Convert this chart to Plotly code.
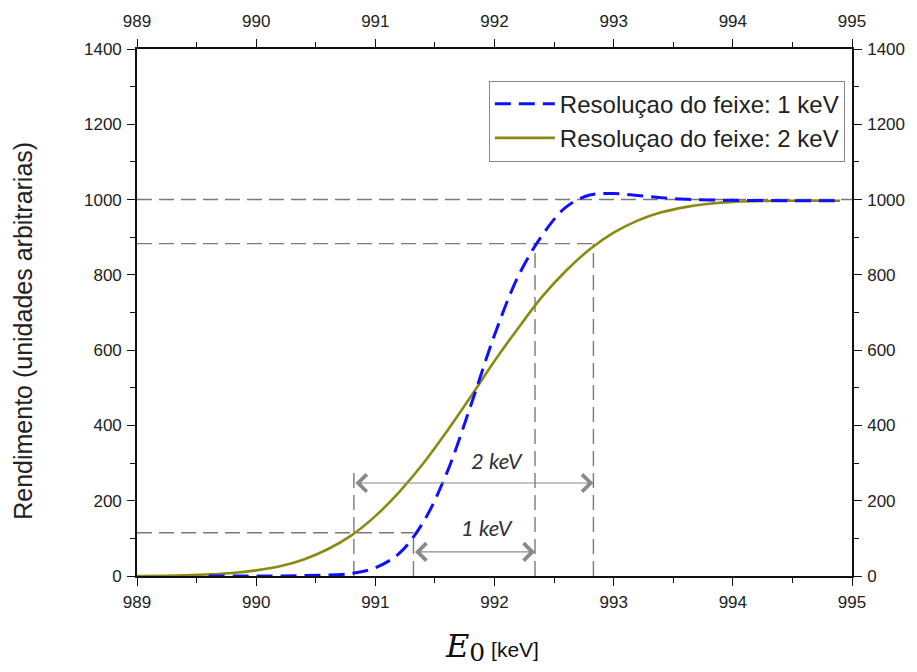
import plotly.graph_objects as go

# ---- data ----
energy_blue = [989.6, 990.0, 990.4, 990.8, 991.0, 991.2, 991.4, 991.6, 991.8, 992.0,
               992.2, 992.4, 992.6, 992.8, 993.0, 993.2, 993.4, 993.6, 993.8, 994.0,
               994.5, 994.9]
yield_blue = [0, 0, 1, 7, 22, 60, 142, 274, 452, 640,
              797, 905, 980, 1012, 1016, 1011, 1005, 1001, 999, 998,
              997, 997]

energy_green = [989.0, 989.4, 989.8, 990.0, 990.2, 990.4, 990.6, 990.8, 991.0, 991.2,
                991.4, 991.6, 991.8, 992.0, 992.2, 992.4, 992.6, 992.8, 993.0, 993.2,
                993.4, 993.6, 993.8, 994.0, 994.5, 994.9]
yield_green = [0, 2, 8, 15, 26, 44, 71, 108, 159, 223,
               298, 384, 476, 571, 659, 742, 811, 868, 912, 944,
               966, 980, 989, 994, 997, 997]

series_names = ["Resoluçao do feixe: 1 keV", "Resoluçao do feixe: 2 keV"]

# reference (guide) lines
h_levels = [1000, 883, 115]
h_x_end = [995, 992.83, 991.32]
v_positions = [990.82, 991.32, 992.34, 992.83]
v_tops = [280, 115, 883, 883]

# width arrows
arrow_2kev = [990.82, 992.83]
arrow_2kev_y = 247
arrow_1kev = [991.32, 992.34]
arrow_1kev_y = 64
labels = ["2 keV", "1 keV"]
label_pos = [(992.02, 308), (991.94, 128)]

x_range = [989, 995]
y_range = [0, 1400]
x_ticks = [989, 990, 991, 992, 993, 994, 995]
y_ticks = [0, 200, 400, 600, 800, 1000, 1200, 1400]

GUIDE = "#7a7a7a"
GUIDE_DASH = "15px,7px"

fig = go.Figure()

# guide lines
for lvl, xe in zip(h_levels, h_x_end):
    fig.add_trace(go.Scatter(x=[x_range[0], xe], y=[lvl, lvl], mode="lines",
                             line=dict(color=GUIDE, width=1.4, dash=GUIDE_DASH),
                             showlegend=False, hoverinfo="skip"))
for xv, yt in zip(v_positions, v_tops):
    fig.add_trace(go.Scatter(x=[xv, xv], y=[0, yt], mode="lines",
                             line=dict(color=GUIDE, width=1.4, dash=GUIDE_DASH),
                             showlegend=False, hoverinfo="skip"))

# curves
fig.add_trace(go.Scatter(x=energy_green, y=yield_green, mode="lines", name=series_names[1],
                         line=dict(color="#8a8a12", width=2.6, shape="spline")))
fig.add_trace(go.Scatter(x=energy_blue, y=yield_blue, mode="lines", name=series_names[0],
                         line=dict(color="#1010ff", width=3, dash="16px,8px", shape="spline")))

# invisible trace for the secondary (mirror) axes
fig.add_trace(go.Scatter(x=x_range, y=y_range, xaxis="x2", yaxis="y2", mode="markers",
                         marker=dict(opacity=0), showlegend=False, hoverinfo="skip"))

# arrows
for (xa, xb), yv in [(arrow_2kev, arrow_2kev_y), (arrow_1kev, arrow_1kev_y)]:
    fig.add_annotation(x=xb, y=yv, ax=xa, ay=yv, xref="x", yref="y", axref="x", ayref="y",
                       text="", showarrow=True, arrowhead=4, arrowside="end+start",
                       arrowsize=2.8, arrowwidth=1.2, arrowcolor="#8a8a8a",
                       standoff=0, startstandoff=0)
for txt, (lx, ly) in zip(labels, label_pos):
    fig.add_annotation(x=lx, y=ly, text=f"<i>{txt}</i>", showarrow=False,
                       font=dict(family="Lato, Liberation Sans, Arial", size=22, color="#333"))

# axis titles
fig.add_annotation(xref="paper", yref="paper", x=-0.182, y=0.465, textangle=-90,
                   text="Rendimento (unidades arbitrarias)", showarrow=False,
                   font=dict(family="Liberation Sans, Arial", size=25, color="#222"))
fig.add_annotation(xref="paper", yref="paper", x=0.497, y=-0.135, yanchor="middle",
                   text="<span style='font-family:DejaVu Serif;font-size:32px'><i>E</i></span>"
                        "<sub><span style='font-family:DejaVu Serif;font-size:25px'>0</span></sub>"
                        "<span style='font-size:21px'> [keV]</span>",
                   showarrow=False,
                   font=dict(family="Liberation Sans, Arial", size=21, color="#111"))

tickfont = dict(family="Liberation Sans, Arial", size=17, color="#222")
axis_common = dict(showgrid=False, zeroline=False, showline=True, linecolor="#111",
                   linewidth=1.6, ticks="outside", ticklen=8, tickwidth=1.4,
                   tickcolor="#111", tickfont=tickfont)
minor_x = dict(dtick=0.5, ticks="outside", ticklen=5, tickwidth=1.2, tickcolor="#111")
minor_y = dict(dtick=100, ticks="outside", ticklen=5, tickwidth=1.2, tickcolor="#111")

fig.update_layout(
    width=917, height=672,
    margin=dict(l=137, r=65, t=46, b=96),
    paper_bgcolor="white", plot_bgcolor="white",
    xaxis=dict(range=x_range, tickvals=x_ticks, minor=minor_x, ticklabelstandoff=2, **axis_common),
    yaxis=dict(range=y_range, tickvals=y_ticks, minor=minor_y, ticklabelstandoff=2, **axis_common),
    xaxis2=dict(range=x_range, tickvals=x_ticks, overlaying="x", side="top", anchor="y",
                minor=minor_x, ticklabelstandoff=5, **axis_common),
    yaxis2=dict(range=y_range, tickvals=y_ticks, overlaying="y", side="right", anchor="x",
                minor=minor_y, ticklabelstandoff=2, **axis_common),
    legend=dict(x=0.99, y=0.94, xanchor="right", yanchor="top",
                bgcolor="white", bordercolor="#888", borderwidth=1,
                font=dict(family="Liberation Sans, Arial", size=24, color="#222"),
                traceorder="reversed", itemwidth=60, tracegroupgap=0),
    showlegend=True,
)

fig.write_html("out.html")
